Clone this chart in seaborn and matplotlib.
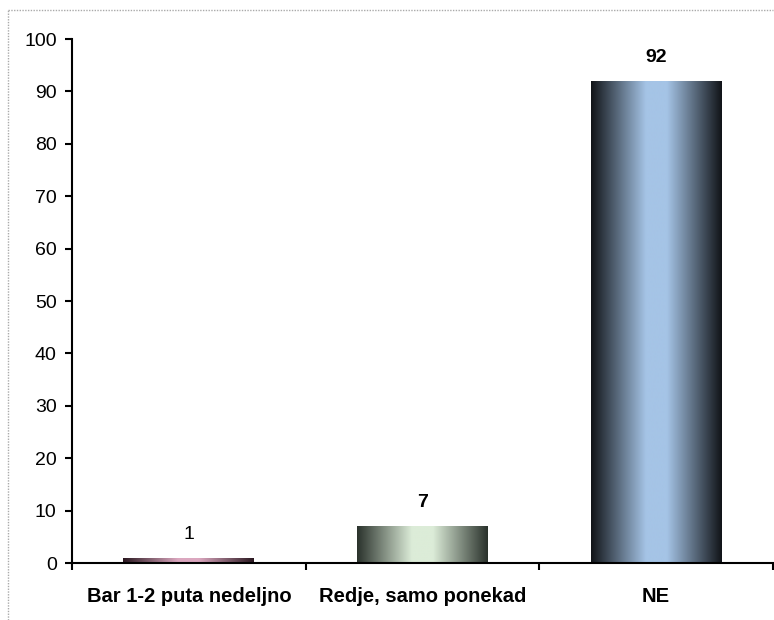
import matplotlib
matplotlib.use("Agg")
import matplotlib.pyplot as plt
import seaborn as sns
import numpy as np
import pandas as pd
from matplotlib.colors import LinearSegmentedColormap
from matplotlib.lines import Line2D

categories = ["Bar 1-2 puta nedeljno", "Redje, samo ponekad", "NE"]
values = [1, 7, 92]
value_labels = ["1", "7", "92"]
y_ticks = [0, 10, 20, 30, 40, 50, 60, 70, 80, 90, 100]

dark_colors = ["#2a1820", "#2a322c", "#111418"]
light_colors = ["#dba7bf", "#dcecd8", "#a5c4e6"]
label_weights = ["normal", "bold", "bold"]

sns.set_theme(style="white")
plt.rcParams["font.family"] = ["Liberation Sans", "DejaVu Sans"]

fig = plt.figure(figsize=(7.74, 6.2), dpi=100)
ax = fig.add_axes([72 / 774, 57 / 620, 701 / 774, 524 / 620])

df = pd.DataFrame({"cat": categories, "val": values})
sns.barplot(data=df, x="cat", y="val", ax=ax, color="#888888", width=0.56,
            linewidth=0, saturation=1)

ax.set_xlim(-0.5, 2.5)
ax.set_ylim(0, 100)

# gradient fill
for i, p in enumerate(ax.patches):
    x0, y0 = p.get_x(), p.get_y()
    w, h = p.get_width(), p.get_height()
    cmap = LinearSegmentedColormap.from_list(
        f"g{i}", [(0, dark_colors[i]), (0.42, light_colors[i]),
                  (0.58, light_colors[i]), (1, dark_colors[i])])
    grad = np.linspace(0, 1, 256).reshape(1, -1)
    im = ax.imshow(grad, cmap=cmap, aspect="auto", extent=[x0, x0 + w, y0, y0 + h],
                   zorder=p.get_zorder() + 0.1, interpolation="bilinear")
    im.set_clip_path(p)
    ax.annotate(value_labels[i], (x0 + w / 2, y0 + h), xytext=(0, 17),
                textcoords="offset points", ha="center", va="center",
                fontsize=14, fontweight=label_weights[i], color="black")

ax.set_xlim(-0.5, 2.5)
ax.set_ylim(0, 100)

ax.set_yticks(y_ticks)
ax.set_yticklabels([str(t) for t in y_ticks], fontsize=14)
ax.set_xticks(range(len(categories)))
ax.set_xticklabels(categories, fontsize=14.5, fontweight="bold")
ax.set_xticks([-0.5, 0.5, 1.5, 2.5], minor=True)
ax.tick_params(axis="x", which="major", length=0, pad=17, colors="black")
ax.tick_params(axis="x", which="minor", length=5, width=1.5, direction="out", color="black", bottom=True)
ax.tick_params(axis="y", length=5, width=1.5, direction="out", color="black", left=True, pad=6, labelcolor="black")
ax.set_xlabel("")
ax.set_ylabel("")

for s in ["top", "right"]:
    ax.spines[s].set_visible(False)
for s in ["left", "bottom"]:
    ax.spines[s].set_color("black")
    ax.spines[s].set_linewidth(1.5)

# dotted chart border
fig.add_artist(Line2D([8 / 774, 8 / 774], [0, 1 - 10 / 620], transform=fig.transFigure,
                      color="#aaaaaa", linestyle=(0, (1, 1)), linewidth=1))
fig.add_artist(Line2D([8 / 774, 773 / 774], [1 - 10 / 620, 1 - 10 / 620], transform=fig.transFigure,
                      color="#aaaaaa", linestyle=(0, (1, 1)), linewidth=1))

fig.savefig("out.png", dpi=100, facecolor="white")
